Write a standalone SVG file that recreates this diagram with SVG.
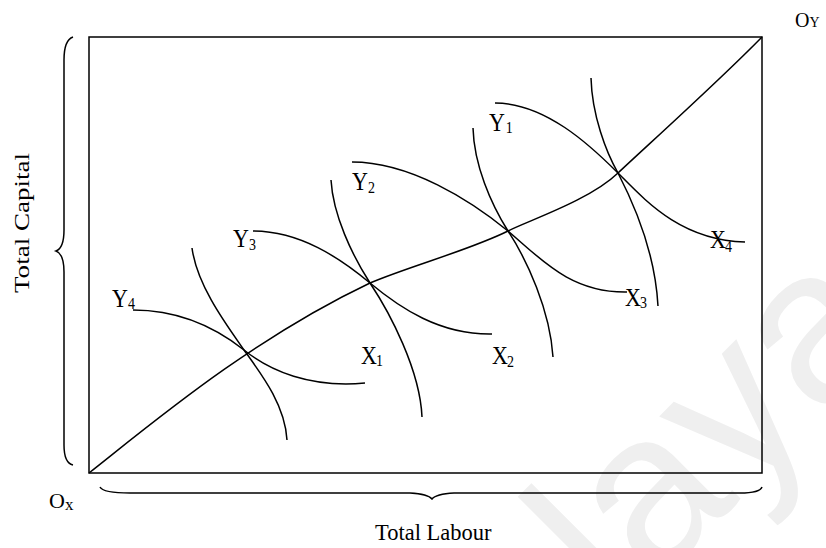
<svg xmlns="http://www.w3.org/2000/svg" width="826" height="548" viewBox="0 0 826 548">
<style>
.ln{fill:none;stroke:#000;stroke-width:1.5;stroke-linecap:butt}
.t{font-family:"Liberation Serif","Times New Roman",serif;fill:#000}
.wm{font-family:"Liberation Sans",Arial,sans-serif;fill:#efefef}
</style>
<rect width="826" height="548" fill="#fff"/>
<g id="watermark">
<text class="wm" font-size="220" transform="translate(620,620) rotate(-45)">laya</text>
</g>
<g id="box">
<rect class="ln" x="89" y="37" width="673" height="436"/>
</g>
<g id="braces">
<path class="ln" d="M73,37 Q64,40 64,60 L64,230 Q64,248 56,251 Q64,254 64,272 L64,445 Q64,463 73,465"/>
<path class="ln" d="M100,487 Q103,493 130,493 L410,493 Q428,494 432,499 Q436,494 454,493 L740,493 Q760,493 762,487"/>
</g>
<g id="connectors">
<path id="contract-curve" class="ln" d="M89,473 C150,425 250,340 370,283 C410,266 470,250 508,231 C530,220 590,200 618,173 C650,143 720,80 762,37"/>
<g id="isoquants">
<path id="y4" class="ln" d="M133,310 C180,310 215,327 244,350 C270,371 310,388 365,383"/>
<path id="x1" class="ln" d="M192,248 C197,285 225,323 244,350 C262,375 285,405 287,440"/>
<path id="y3" class="ln" d="M253,231 C300,231 340,258 370,283 C400,308 440,335 492,334"/>
<path id="x2" class="ln" d="M331,180 C333,215 352,255 370,283 C390,313 420,370 422,417"/>
<path id="y2" class="ln" d="M352,162 C410,162 470,200 508,231 C540,258 570,293 627,292"/>
<path id="x3" class="ln" d="M473,128 C474,165 491,204 508,231 C527,260 550,310 553,357"/>
<path id="y1" class="ln" d="M495,103 C545,103 590,145 618,173 C645,200 680,240 745,242"/>
<path id="x4" class="ln" d="M591,78 C592,115 606,152 618,173 C632,200 655,250 658,306"/>
</g>
</g>
<g id="labels">
<g id="lbl-y4" transform="translate(112,307) scale(1,1.18)"><text class="t" font-size="22">Y<tspan font-size="14" dy="1.5">4</tspan></text></g>
<g id="lbl-y3" transform="translate(233,247) scale(1,1.18)"><text class="t" font-size="22">Y<tspan font-size="14" dy="2.5">3</tspan></text></g>
<g id="lbl-y2" transform="translate(352,190) scale(1,1.18)"><text class="t" font-size="22">Y<tspan font-size="14" dy="2.5">2</tspan></text></g>
<g id="lbl-y1" transform="translate(489,131) scale(1,1.18)"><text class="t" font-size="22">Y<tspan font-size="14" dy="1.5" dx="1">1</tspan></text></g>
<g id="lbl-x1" transform="translate(361,364) scale(1,1.18)"><text class="t" font-size="22">X<tspan font-size="14" dy="2" dx="-1">1</tspan></text></g>
<g id="lbl-x2" transform="translate(492,364) scale(1,1.18)"><text class="t" font-size="22">X<tspan font-size="14" dy="2.5" dx="-1">2</tspan></text></g>
<g id="lbl-x3" transform="translate(625,306) scale(1,1.18)"><text class="t" font-size="22">X<tspan font-size="14" dy="2" dx="-1">3</tspan></text></g>
<g id="lbl-x4" transform="translate(710,248) scale(1,1.18)"><text class="t" font-size="22">X<tspan font-size="14" dy="3" dx="-1">4</tspan></text></g>
<text id="lbl-ox" class="t" x="49" y="508" font-size="22">O<tspan font-size="17" dy="2">x</tspan></text>
<text id="lbl-oy" class="t" x="795" y="27" font-size="20">O<tspan font-size="14">Y</tspan></text>
<text id="lbl-capital" class="t" font-size="20.5" textLength="140" lengthAdjust="spacingAndGlyphs" transform="translate(29,293) rotate(-90)">Total Capital</text>
<text id="lbl-labour" class="t" x="375" y="540" font-size="22.5">Total Labour</text>
</g>
</svg>
